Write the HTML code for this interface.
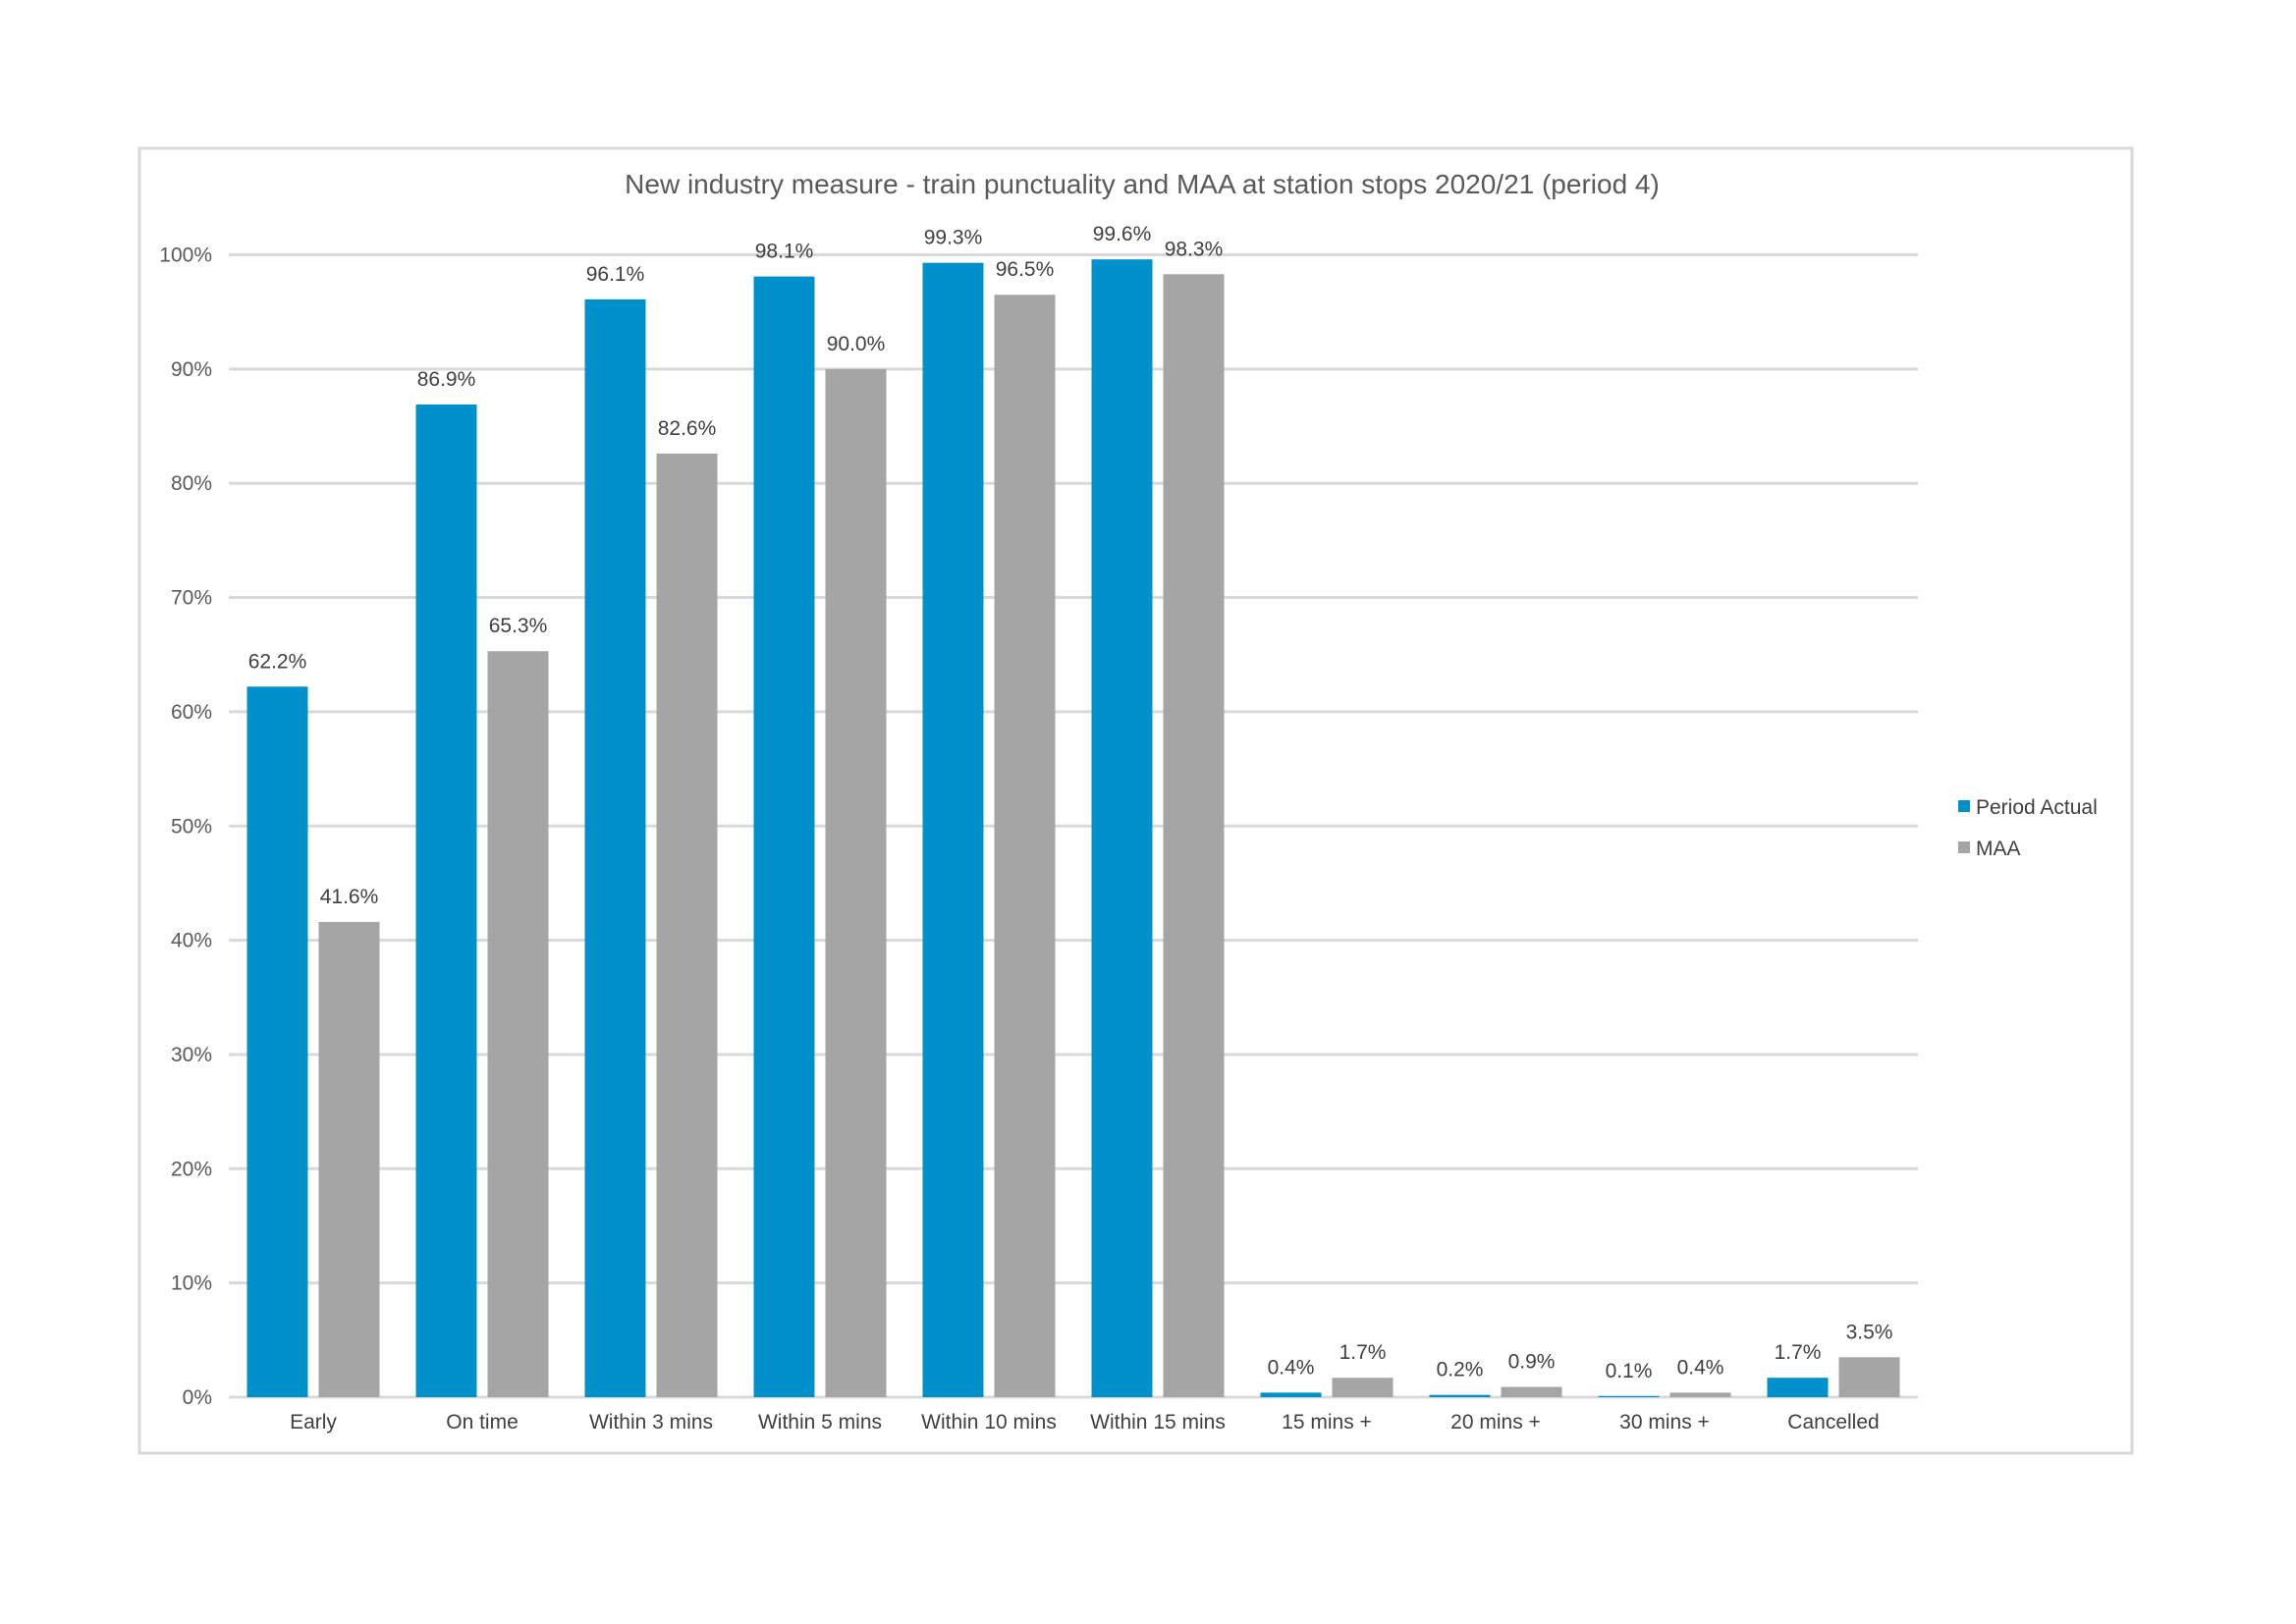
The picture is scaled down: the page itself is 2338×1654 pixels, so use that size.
<!DOCTYPE html>
<html><head><meta charset="utf-8"><style>
html,body{margin:0;padding:0;background:#fff;}
svg{display:block;font-family:"Liberation Sans",Arial,sans-serif;}
</style></head><body>
<svg id="chart" width="2338" height="1654" xmlns="http://www.w3.org/2000/svg">
<rect x="142" y="151" width="2029" height="1329" fill="#fff" stroke="#d9d9d9" stroke-width="3"/>
<text x="1163" y="197" font-size="28" fill="#595959" text-anchor="middle">New industry measure - train punctuality and MAA at station stops 2020/21 (period 4)</text>
<g id="grid"></g><g id="bars"></g><g id="labels"></g>
<g>
<rect x="1994" y="815" width="12" height="12" fill="#0091cd"/>
<text x="2012" y="829" font-size="21" fill="#404040">Period Actual</text>
<rect x="1994" y="857" width="12" height="12" fill="#a5a5a5"/>
<text x="2012" y="871" font-size="21" fill="#404040">MAA</text>
</g>
</svg>
<script>
const categories=["Early","On time","Within 3 mins","Within 5 mins","Within 10 mins","Within 15 mins","15 mins +","20 mins +","30 mins +","Cancelled"];
const periodActual=[62.2,86.9,96.1,98.1,99.3,99.6,0.4,0.2,0.1,1.7];
const maa=[41.6,65.3,82.6,90.0,96.5,98.3,1.7,0.9,0.4,3.5];
const yTicks=[0,10,20,30,40,50,60,70,80,90,100];
const NS="http://www.w3.org/2000/svg";
const x0=233,x1=1953,y0=1423,y100=259.5;
const cw=(x1-x0)/categories.length;
const y=v=>y0-(v/100)*(y0-y100);
const bw=62,gap=11,off=(cw-2*bw-gap)/2;
function mk(tag,attrs,parent){const e=document.createElementNS(NS,tag);for(const k in attrs)e.setAttribute(k,attrs[k]);parent.appendChild(e);return e;}
const grid=document.getElementById('grid'),bars=document.getElementById('bars'),labels=document.getElementById('labels');
yTicks.forEach(t=>{
  const l=mk('line',{x1:x0,x2:x1,y1:y(t),y2:y(t),stroke:'#d9d9d9','stroke-width':3},grid);
  
  
  const tx=mk('text',{x:216,y:y(t)+7,'font-size':21,fill:'#595959','text-anchor':'end'},grid);
  tx.textContent=t+'%';
  
  
});
categories.forEach((c,i)=>{
  const cx=x0+i*cw;
  [[periodActual,'#0091cd','actual',0],[maa,'#a5a5a5','maa',1]].forEach(([arr,col,nm,k])=>{
    const bx=cx+off+k*(bw+gap);
    const r=mk('rect',{x:bx,y:y(arr[i]),width:bw,height:y0-y(arr[i]),fill:col},bars);
    
    
    const t=mk('text',{x:bx+bw/2,y:y(arr[i])-19,'font-size':21,fill:'#404040','text-anchor':'middle'},labels);
    t.textContent=arr[i].toFixed(1)+'%';
    
    
  });
  const xl=mk('text',{x:cx+cw/2,y:1455,'font-size':21,fill:'#404040','text-anchor':'middle'},labels);
  xl.textContent=c;
  
  
});
</script>
</body></html>
